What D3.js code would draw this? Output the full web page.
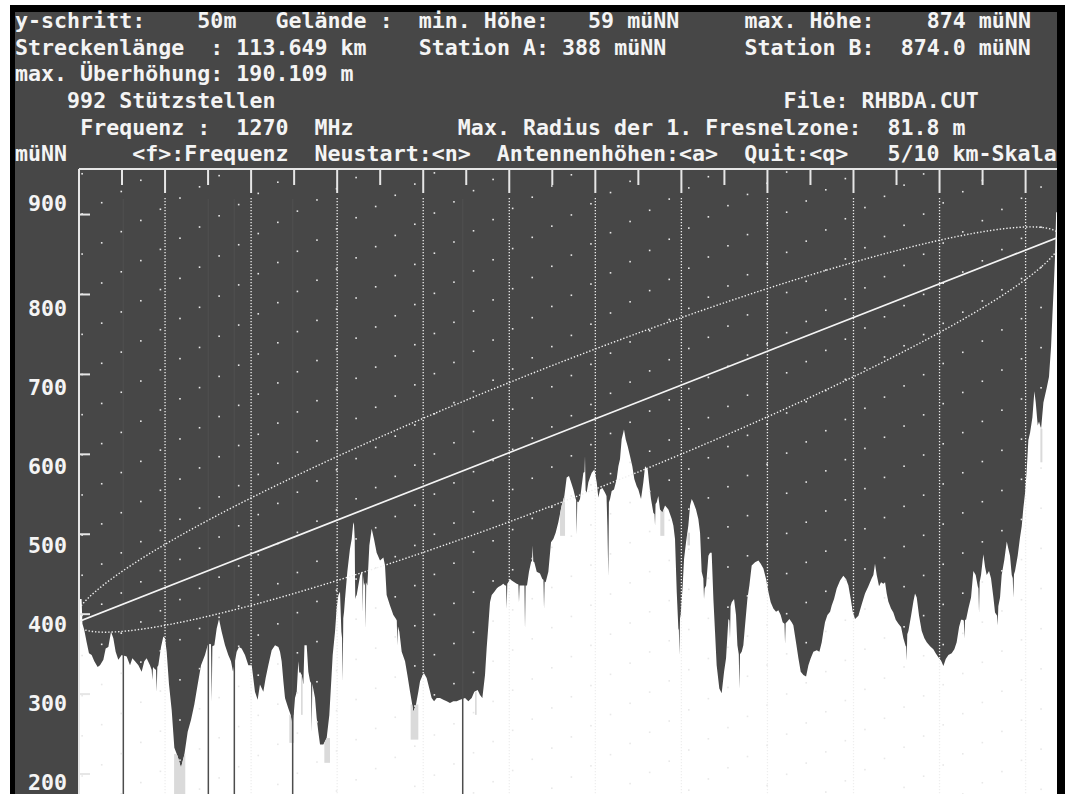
<!DOCTYPE html>
<html>
<head>
<meta charset="utf-8">
<script src="https://cdn.jsdelivr.net/npm/d3@7"></script>
<style>
  html, body { margin: 0; padding: 0; background: #fff; }
  svg { display: block; }
  .dos { font-family: 'DejaVu Sans Mono', monospace; font-weight: bold; font-size: 21.6px; letter-spacing: 0.02px; fill: #f4f4f4; white-space: pre; }
</style>
</head>
<body>
<svg id="chart" width="1065" height="794"></svg>
<script>
// Route data: length of the path, line-of-sight end heights and the max Fresnel radius.
const routeKm = 113.649;
const losHeights = [391, 871];
const fresnelMax = 81.8;

// Terrain profile as [km, müNN].
const profile = [
  [0,419],[0.3,419],[0.4,388],[0.62,380],[0.89,365],[1.16,351],[1.47,349],[1.78,341],[2.17,334],[2.44,336],
  [2.83,343],[3.10,357],[3.41,359],[3.72,378],[3.99,370],[4.26,353],[4.57,343],[4.96,349],[5.54,347],[5.93,336],
  [6.20,345],[6.51,341],[6.90,336],[7.28,328],[7.59,341],[7.86,345],[8.25,336],[8.45,330],[8.52,318],[8.60,334],
  [8.75,332],[8.95,330],[9.03,303],[9.10,334],[9.22,336],[9.53,359],[9.80,372],[9.99,370],[10.19,353],[10.46,312],
  [10.77,280],[11.08,233],[11.47,222],[11.85,208],[12.24,224],[12.63,253],[13.02,268],[13.40,287],[13.79,312],[14.18,336],
  [14.64,349],[14.95,361],[15.22,363],[15.34,362],[15.42,291],[15.50,360],[15.73,361],[16.00,382],[16.27,394],[16.58,378],
  [16.97,361],[17.35,349],[17.66,341],[17.90,328],[18.32,353],[18.59,359],[18.90,357],[19.29,349],[19.68,336],[20.07,336],
  [20.45,303],[20.76,293],[21.03,312],[21.42,303],[21.69,320],[22.00,336],[22.39,355],[22.78,361],[23.17,359],[23.36,353],
  [23.55,341],[23.75,316],[23.94,295],[24.33,282],[24.60,274],[24.83,258],[25.10,295],[25.30,303],[25.49,341],[25.60,326],
  [25.68,328],[25.88,324],[26.07,312],[26.20,361],[26.46,361],[26.65,328],[26.85,316],[26.97,314],[27.04,253],[27.11,313],
  [27.43,295],[27.62,270],[27.81,253],[28.01,237],[28.39,237],[28.78,245],[29.09,274],[29.29,312],[29.48,349],[29.75,378],
  [29.94,407],[30.14,424],[30.33,428],[30.49,378],[30.57,370],[30.64,316],[30.71,395],[30.80,403],[30.91,419],[31.18,453],
  [31.49,482],[31.69,494],[31.88,515],[31.96,512],[32.04,494],[32.08,440],[32.11,419],[32.18,422],[32.27,424],[32.46,436],
  [32.66,448],[32.85,453],[32.92,452],[32.97,403],[33.03,448],[33.12,436],[33.25,440],[33.31,382],[33.38,440],[33.51,436],
  [33.74,486],[34.01,507],[34.28,494],[34.59,477],[34.98,467],[35.37,471],[35.56,461],[35.75,424],[36.14,411],[36.53,399],
  [36.84,394],[36.93,392],[36.99,361],[37.06,385],[37.23,378],[37.50,353],[37.89,341],[38.16,324],[38.47,303],[38.66,291],
  [38.85,278],[39.16,287],[39.43,303],[39.63,316],[39.94,324],[40.09,326],[40.40,320],[40.71,307],[40.98,295],[41.26,291],
  [41.57,295],[41.95,295],[42.34,293],[42.73,291],[43.11,289],[43.50,291],[43.89,291],[44.28,293],[44.86,295],[45.24,291],
  [45.63,295],[45.94,303],[46.33,305],[46.60,299],[46.87,295],[47.18,324],[47.37,357],[47.57,386],[47.76,415],[47.96,424],
  [48.27,428],[48.54,432],[48.73,434],[49.04,436],[49.31,438],[49.51,436],[49.63,436],[49.70,407],[49.77,438],[49.89,440],
  [50.09,444],[50.28,442],[50.59,440],[50.86,438],[51.06,437],[51.13,415],[51.20,436],[51.36,436],[51.63,436],[51.76,436],
  [51.83,382],[51.90,436],[52.06,436],[52.29,453],[52.53,465],[52.65,467],[52.72,486],[52.79,466],[52.91,465],[53.19,453],
  [53.57,451],[53.84,444],[53.97,443],[54.04,407],[54.11,441],[54.23,440],[54.54,453],[54.85,490],[55.12,494],[55.39,502],
  [55.70,515],[56.09,536],[56.40,548],[56.67,571],[56.94,573],[57.18,565],[57.45,556],[57.72,544],[57.77,543],[57.83,500],
  [57.90,541],[58.03,540],[58.22,544],[58.41,560],[58.61,577],[58.74,578],[58.80,598],[58.87,555],[58.99,552],[59.19,565],
  [59.38,571],[59.58,577],[59.89,581],[60.16,565],[60.35,546],[60.55,556],[60.82,558],[61.13,552],[61.30,548],[61.40,511],
  [61.51,448],[61.58,540],[61.71,544],[61.90,554],[62.17,556],[62.48,569],[62.68,585],[62.87,594],[63.06,619],[63.33,631],
  [63.53,619],[63.76,610],[64.03,598],[64.30,585],[64.53,569],[64.81,560],[65.00,556],[65.31,544],[65.58,565],[65.78,585],
  [66.09,581],[66.24,565],[66.47,544],[66.74,527],[66.88,525],[66.94,511],[67.00,538],[67.13,540],[67.32,548],[67.52,531],
  [67.79,527],[68.10,536],[68.49,531],[68.88,519],[69.07,511],[69.26,494],[69.46,428],[69.65,382],[69.71,380],[69.77,349],
  [69.84,395],[69.92,399],[70.15,436],[70.31,469],[70.54,490],[70.81,511],[71.01,536],[71.20,544],[71.39,540],[71.70,531],
  [71.97,519],[72.17,502],[72.36,453],[72.55,445],[72.63,419],[72.70,432],[72.87,436],[73.14,473],[73.33,477],[73.52,477],
  [73.72,419],[73.91,378],[74.10,336],[74.41,307],[74.68,301],[74.96,328],[75.19,345],[75.46,394],[75.58,392],[75.65,370],
  [75.72,410],[75.85,415],[76.12,419],[76.35,399],[76.51,361],[76.67,350],[76.74,307],[76.81,350],[77.01,353],[77.20,361],
  [77.40,386],[77.67,419],[77.90,436],[78.17,461],[78.56,465],[78.95,467],[79.22,463],[79.53,457],[79.84,444],[80.11,428],
  [80.38,415],[80.69,407],[81.00,403],[81.27,405],[81.54,399],[81.77,390],[81.98,388],[82.05,363],[82.12,389],[82.24,390],
  [82.55,394],[82.82,390],[83.01,386],[83.32,365],[83.60,345],[83.87,328],[84.18,324],[84.49,322],[84.76,336],[85.03,345],
  [85.34,353],[85.73,355],[86.04,353],[86.31,365],[86.50,378],[86.69,390],[86.97,399],[87.28,403],[87.47,411],[87.74,419],
  [88.05,432],[88.44,442],[88.82,448],[89.13,444],[89.41,436],[89.68,419],[89.91,403],[90.18,394],[90.57,398],[90.95,412],
  [91.34,426],[91.73,435],[92.12,445],[92.31,449],[92.50,463],[92.70,449],[92.97,435],[93.20,440],[93.47,438],[93.67,440],
  [93.86,426],[94.05,416],[94.36,407],[94.63,402],[94.91,393],[95.22,388],[95.53,384],[95.80,370],[96.07,360],[96.12,360],
  [96.18,342],[96.25,375],[96.38,379],[96.69,398],[96.96,416],[97.15,426],[97.35,421],[97.62,398],[97.93,379],[98.24,370],
  [98.51,365],[98.90,360],[99.28,356],[99.55,351],[99.86,346],[100.17,342],[100.45,335],[100.72,344],[101.03,349],[101.41,351],
  [101.72,356],[101.99,365],[102.27,384],[102.50,393],[102.65,393],[102.82,392],[102.89,370],[102.96,393],[103.08,393],[103.35,407],
  [103.66,421],[103.93,454],[104.20,449],[104.44,435],[104.52,432],[104.59,402],[104.66,440],[104.82,449],[105.09,475],[105.29,459],
  [105.48,449],[105.75,454],[105.98,445],[106.26,421],[106.45,402],[106.69,398],[106.76,386],[106.83,410],[107.03,421],[107.22,449],
  [107.53,468],[107.81,491],[108.00,482],[108.19,473],[108.39,449],[108.51,445],[108.58,421],[108.65,450],[108.77,454],[109.08,473],
  [109.35,496],[109.55,510],[109.74,533],[109.94,552],[110.13,580],[110.32,618],[110.52,627],[110.79,646],[111.02,679],[111.18,665],
  [111.41,636],[111.56,641],[111.80,632],[112.07,665],[112.26,674],[112.45,683],[112.72,697],[112.96,735],[113.11,772],[113.31,819],
  [113.42,847],[113.55,903],[113.649,903]
];

// Single bad samples that drop to the bottom of the screen (km).
const dropoutKm = [5.15, 15.03, 18.05, 24.83, 44.59];

// Light grey patches under the profile: [km from, km to, top müNN, bottom müNN].
const lightPatches = [
  [11.05, 12.35, 225, 170], [24.44, 24.99, 274, 239], [25.80, 25.99, 324, 274],
  [28.51, 29.17, 245, 214], [38.54, 39.43, 287, 243], [46.02, 46.21, 303, 274],
  [55.90, 56.48, 548, 498], [67.55, 68.02, 531, 498], [70.70, 71.00, 502, 486],
  [111.72, 111.95, 632, 590]
];

// Axis ticks.
const heightTicks = [200, 300, 400, 500, 600, 700, 800, 900];
const kmTicks = [5, 10, 15, 20, 25, 30, 35, 40, 45, 50, 55, 60, 65, 70, 75, 80, 85, 90, 95, 100, 105, 110];

// Header text, as [row, column, text] on the 80 column text screen.
const headerText = [
  [0, 0, 'y-schritt:'], [0, 14, '50m'], [0, 20, 'Gelände :'], [0, 31, 'min. Höhe:'], [0, 44, '59 müNN'],
  [0, 56, 'max. Höhe:'], [0, 70, '874 müNN'],
  [1, 0, 'Streckenlänge  : 113.649 km'], [1, 31, 'Station A:'], [1, 42, '388 müNN'], [1, 56, 'Station B:'],
  [1, 68, '874.0 müNN'],
  [2, 0, 'max. Überhöhung: 190.109 m'],
  [3, 4, '992 Stützstellen'], [3, 59, 'File: RHBDA.CUT'],
  [4, 5, 'Frequenz :  1270  MHz'], [4, 34, 'Max. Radius der 1. Fresnelzone:  81.8 m'],
  [5, 0, 'müNN'], [5, 9, '<f>:Frequenz  Neustart:<n>  Antennenhöhen:<a>  Quit:<q>   5/10 km-Skala']
];

// Screen layout: 80 text columns between x=15 and x=1057.
const plot = { left: 79, right: 1057, top: 169, bottom: 794 };
const charW = 13.025, textLeft = 15;
const bg = '#474747';

var svg = d3.select('#chart');

// Black frame and grey screen.
svg.append('rect').attr('x', 10).attr('y', 5).attr('width', 1055).attr('height', 789).attr('fill', '#000');
svg.append('rect').attr('x', 15).attr('y', 12).attr('width', 1042).attr('height', 782).attr('fill', bg);

// Scales: km along the route, metres above sea level.
var x = d3.scaleLinear().domain([0, routeKm]).range([plot.left, plot.right]);
var y = d3.scaleLinear().domain([175, 957]).range([plot.bottom, plot.top]);

var defs = svg.append('defs');
defs.append('clipPath').attr('id', 'plot-clip').append('rect')
    .attr('x', plot.left).attr('y', plot.top)
    .attr('width', plot.right - plot.left).attr('height', plot.bottom - plot.top);

var area = d3.area()
    .x(function(d) { return x(d[0]); })
    .y0(plot.bottom + 2)
    .y1(function(d) { return y(d[1]); });

defs.append('clipPath').attr('id', 'terrain-clip').append('path').attr('d', area(profile));

var g = svg.append('g').attr('clip-path', 'url(#plot-clip)');

// Terrain, filled white down to the bottom.
g.append('path').attr('d', area(profile)).attr('fill', '#ffffff');

// Light grey patches inside the terrain.
g.append('g').attr('clip-path', 'url(#terrain-clip)')
    .selectAll('rect').data(lightPatches).enter().append('rect')
    .attr('x', function(d) { return x(d[0]); })
    .attr('width', function(d) { return x(d[1]) - x(d[0]); })
    .attr('y', function(d) { return y(d[2]); })
    .attr('height', function(d) { return y(d[3]) - y(d[2]); })
    .attr('fill', '#dadada');

// Dropout samples: dark columns in the terrain.
g.selectAll('.dropout').data(dropoutKm).enter().append('line')
    .attr('class', 'dropout')
    .attr('x1', function(d) { return x(d); }).attr('x2', function(d) { return x(d); })
    .attr('y1', plot.top + 30).attr('y2', plot.bottom)
    .attr('stroke', '#4d4d4d').attr('stroke-width', 1.5);

// Dot raster of the screen (decorative).
var dots = [];
for (var i = -3; i < 52; i++) {
    var cx = 101.7 + i * 19.57;
    var cy0 = 202.7 - i * 11.2;
    for (var k = -40; k < 60; k++) {
        var cy = cy0 + k * 40.15;
        if (cy > plot.top + 3 && cy < plot.bottom && cx > plot.left + 2 && cx < plot.right) dots.push([cx, cy]);
    }
}
g.selectAll('.dot').data(dots).enter().append('rect')
    .attr('class', 'dot')
    .attr('x', function(d) { return d[0] - 0.8; }).attr('y', function(d) { return d[1] - 0.8; })
    .attr('width', 1.6).attr('height', 1.6).attr('fill', '#e8e8e8');

// Dotted 10 km grid lines.
g.selectAll('.grid').data(kmTicks.filter(function(d) { return d % 10 === 0; })).enter().append('line')
    .attr('class', 'grid')
    .attr('x1', function(d) { return x(d); }).attr('x2', function(d) { return x(d); })
    .attr('y1', plot.top + 29).attr('y2', plot.bottom)
    .attr('stroke', '#eeeeee').attr('stroke-width', 1.3).attr('stroke-dasharray', '1.2 1.8');

// Line of sight and first Fresnel zone (ellipse with foci at both stations).
var A = [x(0), y(losHeights[0])], B = [x(routeKm), y(losHeights[1])];
var L = Math.hypot(B[0] - A[0], B[1] - A[1]);
var u = [(B[0] - A[0]) / L, (B[1] - A[1]) / L];
var n = [u[1], -u[0]];
var b = y(0) - y(fresnelMax);
var a = Math.sqrt(L * L / 4 + b * b);
var M = [(A[0] + B[0]) / 2, (A[1] + B[1]) / 2];
var ellipse = d3.range(0, 2 * Math.PI + 0.001, Math.PI / 720).map(function(t) {
    return [M[0] + a * Math.cos(t) * u[0] + b * Math.sin(t) * n[0],
            M[1] + a * Math.cos(t) * u[1] + b * Math.sin(t) * n[1]];
});
g.append('path').attr('d', d3.line()(ellipse))
    .attr('fill', 'none').attr('stroke', '#f0f0f0').attr('stroke-width', 1.4)
    .attr('stroke-dasharray', '1.4 1.9');
g.append('line')
    .attr('x1', A[0]).attr('y1', A[1]).attr('x2', B[0]).attr('y2', B[1])
    .attr('stroke', '#f4f4f4').attr('stroke-width', 1.7);

// Axes: top line with km ticks, left line with height ticks.
svg.append('line').attr('x1', plot.left).attr('x2', plot.right).attr('y1', plot.top).attr('y2', plot.top)
    .attr('stroke', '#e6e6e6').attr('stroke-width', 2);
svg.append('line').attr('x1', plot.left).attr('x2', plot.left).attr('y1', plot.top).attr('y2', plot.bottom)
    .attr('stroke', '#e6e6e6').attr('stroke-width', 2);
svg.selectAll('.xtick').data(kmTicks).enter().append('line')
    .attr('class', 'xtick')
    .attr('x1', function(d) { return x(d); }).attr('x2', function(d) { return x(d); })
    .attr('y1', plot.top).attr('y2', function(d) { return plot.top + (d % 10 === 0 ? 24 : 16); })
    .attr('stroke', '#e6e6e6').attr('stroke-width', 2);
svg.selectAll('.ytick').data(heightTicks).enter().append('line')
    .attr('class', 'ytick')
    .attr('x1', plot.left).attr('x2', plot.left + 11)
    .attr('y1', function(d) { return y(d); }).attr('y2', function(d) { return y(d); })
    .attr('stroke', '#e6e6e6').attr('stroke-width', 2);

// Height labels sit on the text row that holds the tick.
var rowPitch = 26.3, rowBase = 781.7;
var snapRow = function(py) {
    var k = Math.round((rowBase - (py + 1.4)) / rowPitch);
    return rowBase - k * rowPitch;
};
svg.selectAll('.ylabel').data(heightTicks).enter().append('text')
    .attr('class', 'dos ylabel')
    .attr('x', textLeft + charW)
    .attr('y', function(d) { return snapRow(y(d)) + 8; })
    .text(function(d) { return d; });

// Header lines.
svg.selectAll('.header').data(headerText).enter().append('text')
    .attr('class', 'dos header')
    .attr('x', function(d) { return textLeft + d[1] * charW; })
    .attr('y', function(d) { return 21 + d[0] * 26.65 + 7; })
    .text(function(d) { return d[2]; });
</script>
</body>
</html>
